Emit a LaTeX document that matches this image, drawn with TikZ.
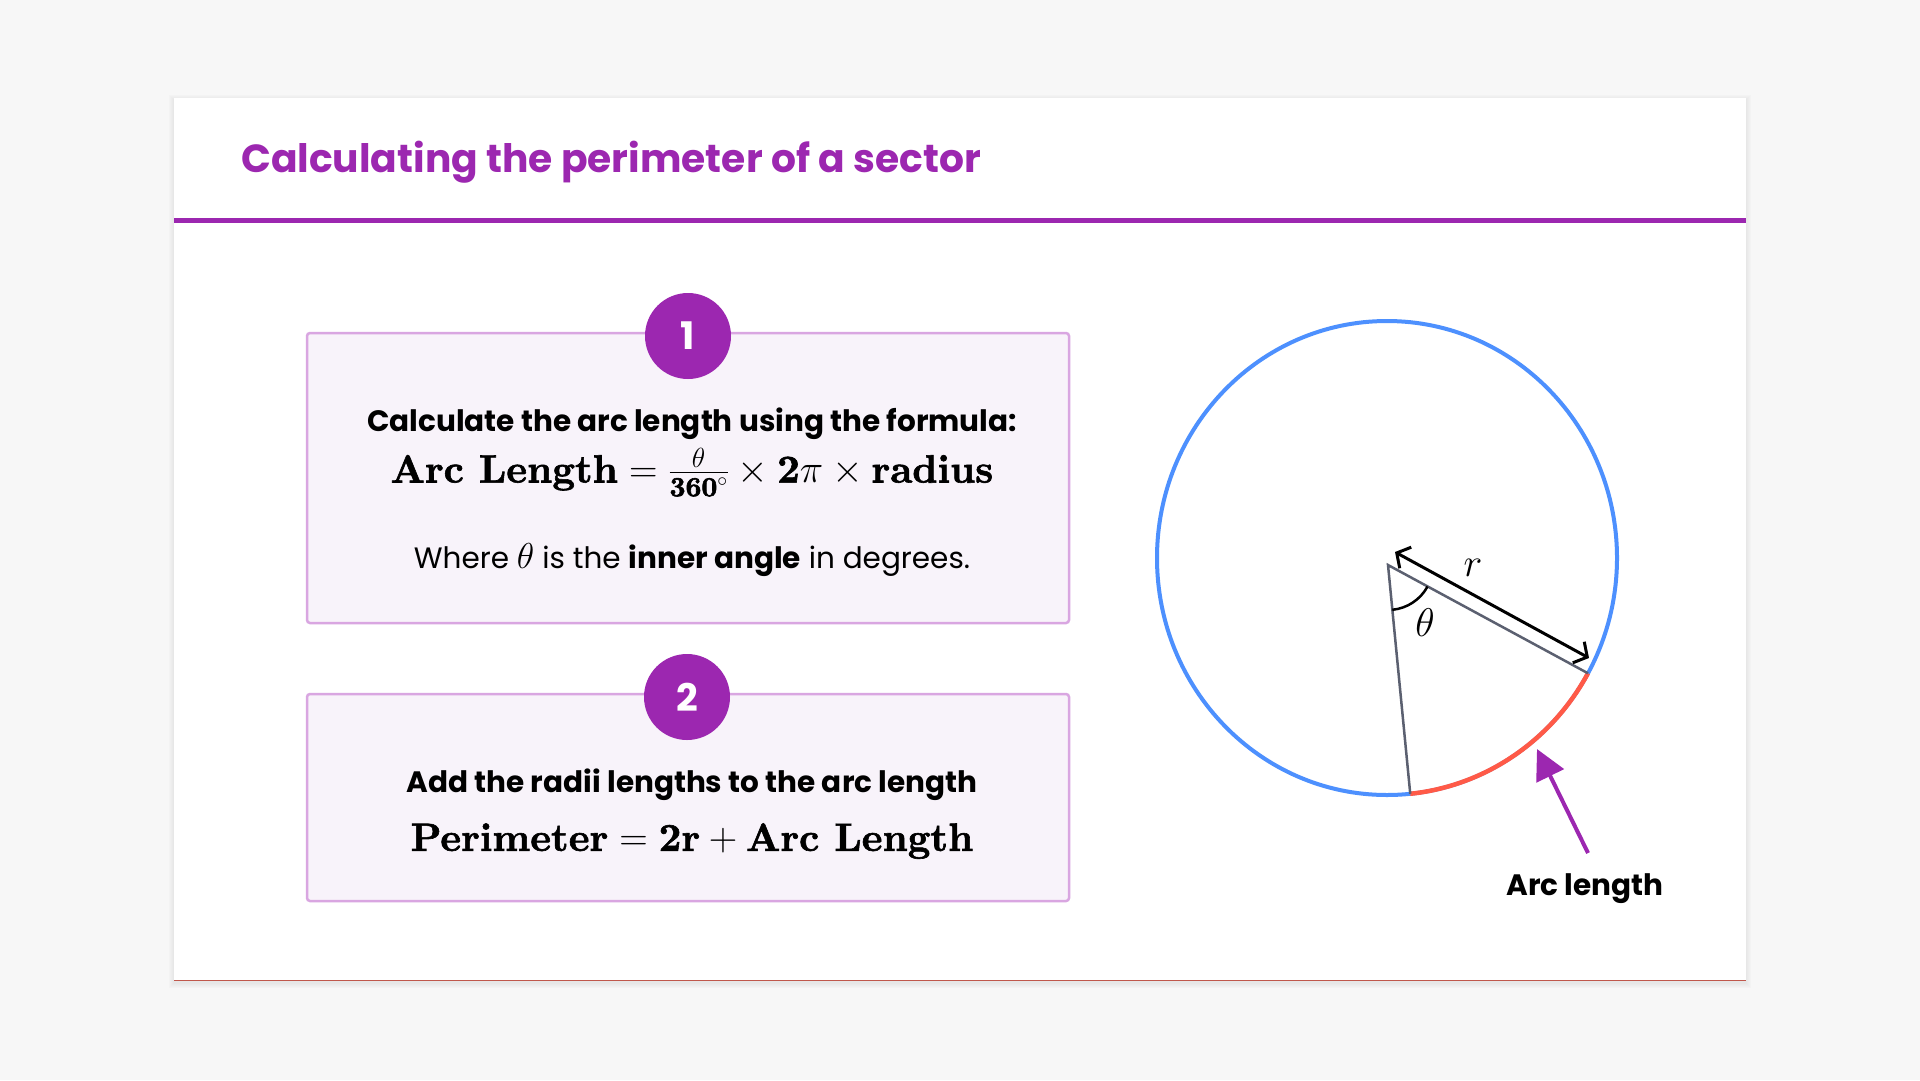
\RequirePackage{fix-cm}
\documentclass[tikz,border=0pt]{standalone}
\usepackage[no-math]{fontspec}
\setmainfont{Poppins}
\usepackage{amsmath}
\usetikzlibrary{arrows.meta,calc}
\DeclareFontFamily{OT1}{cmbxten}{\hyphenchar\font=-1}
\DeclareFontShape{OT1}{cmbxten}{bx}{n}{<-> cmbx10}{}
\newcommand{\cmbold}[1]{\text{\special{pdf:literal direct 2 Tr 0.6 w}\usefont{OT1}{cmbxten}{bx}{n}#1\special{pdf:literal direct 0 Tr}}}
\definecolor{pagebg}{HTML}{F7F7F7}
\definecolor{purp}{HTML}{9C27B0}
\definecolor{boxfill}{HTML}{F8F3FA}
\definecolor{boxline}{HTML}{D9A6E1}
\definecolor{circblue}{HTML}{4D90FE}
\definecolor{arcred}{HTML}{FF5A47}
\definecolor{radgray}{HTML}{5B6070}
\definecolor{edgered}{HTML}{C0584C}
\tikzset{
  stepbox/.style={draw=boxline, line width=2.5pt, fill=boxfill, rounded corners=3pt},
  numcirc/.style={circle, fill=purp, minimum size=86pt, inner sep=0pt, text=white,
     font=\fontsize{38}{40}\selectfont\bfseries},
  headtxt/.style={font=\fontsize{29.5}{32}\selectfont\bfseries, text=black, inner sep=0pt},
  bodytxt/.style={font=\fontsize{29.5}{32}\selectfont, text=black, inner sep=0pt},
  mathtxt/.style={font=\fontsize{39.5}{42}\selectfont, text=black, inner sep=0pt},
  lbl/.style={font=\fontsize{40}{42}\selectfont, inner sep=0pt},
}
\begin{document}
\begin{tikzpicture}[x=1pt, y=-1pt]
\useasboundingbox (0,0) rectangle (1920,1080);
\fill[pagebg] (0,0) rectangle (1920,1080);
% card shadow
\foreach \i/\o in {1/0.010,2/0.010,3/0.010,4/0.012,5/0.015}{
  \fill[black, opacity=\o] (174-\i,98-\i+2) rectangle (1746+\i,981+\i+2);
}
\fill[white] (174,98) rectangle (1746,981);
\draw[edgered, line width=1.5pt] (174,980.5) -- (1746,980.5);
% title
\node[anchor=west, text=purp, inner sep=0pt, font=\fontsize{39.2}{42}\selectfont\bfseries] (title) at (241,162) {Calculating the perimeter of a sector};
\draw[purp, line width=5pt] (174,220) -- (1746,220);

% box 1
\draw[stepbox] (307,333) rectangle (1069,623);
\node[numcirc] (n1) at (688,336) {1};
\node[headtxt] (h1) at (692,424) {Calculate the arc length using the formula:};
\node[mathtxt] (f1) at (692,472) {$\cmbold{Arc Length} = \frac{\theta}{\cmbold{360}^\circ} \times \cmbold{2}\pi \times \cmbold{radius}$};
\node[bodytxt] (w1) at (692,560) {Where {\fontsize{36}{38}\selectfont$\theta$} is the \textbf{inner angle} in degrees.};

% box 2
\draw[stepbox] (307,694) rectangle (1069,901);
\node[numcirc] (n2) at (687,697) {2};
\node[headtxt] (h2) at (692,785) {Add the radii lengths to the arc length};
\node[mathtxt] (f2) at (692,841) {$\cmbold{Perimeter} = \cmbold{2r} + \cmbold{Arc Length}$};

% circle diagram
\coordinate (C) at (1387,558);
\coordinate (V) at (1388,565);
\coordinate (A) at ([shift={(84.2:230 and 237)}]C);
\coordinate (B) at ([shift={(29.1:230 and 237)}]C);
\draw[circblue, line width=4pt] (C) ellipse [x radius=230, y radius=237];
\draw[arcred, line width=4.5pt] (B) arc[start angle=29.1, end angle=84.2, x radius=230, y radius=237];
\draw[radgray, line width=2.5pt] (A) -- (V) -- (B);
\draw[black, line width=2.5pt] ([shift={(84.5:45)}]V) arc[start angle=84.5, end angle=28.5, radius=45];
\node[lbl] (th) at (1425,623) {$\theta$};
\coordinate (r1) at (1395,552);
\coordinate (r2) at (1589,658);
\draw[black, line width=3pt, {Straight Barb[length=10pt, width=24pt]}-{Straight Barb[length=10pt, width=24pt]}] (r1) -- (r2);
\node[lbl] (rl) at (1473,568) {$r$};
\coordinate (pt) at (1588,853);
\coordinate (ph) at (1537,749);
\draw[purp, line width=4pt, -{Triangle[length=30pt, width=30pt]}] (pt) -- (ph);
\node[headtxt] (al) at (1585,889) {Arc length};
\end{tikzpicture}
\end{document}
